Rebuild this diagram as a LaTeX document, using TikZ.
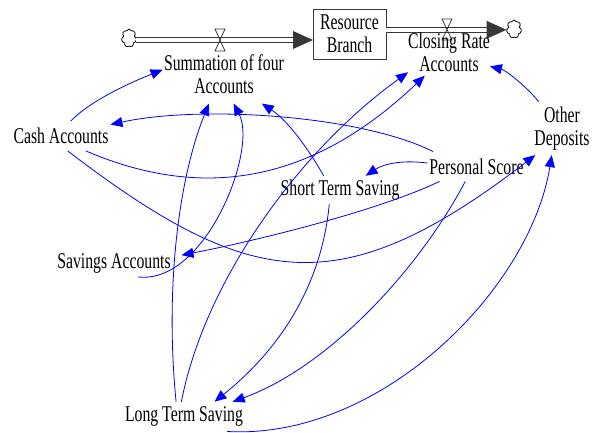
\documentclass[tikz,border=0pt]{standalone}
\usepackage{fontspec}
\setmainfont{Liberation Serif}[FakeStretch=0.7]
\usetikzlibrary{arrows.meta,shapes.symbols,calc}
\definecolor{linkblue}{RGB}{0,0,255}
\definecolor{pipegray}{RGB}{55,55,55}
\begin{document}
\begin{tikzpicture}[x=1bp,y=-1bp,
  lbl/.style={font=\fontsize{22.5bp}{23bp}\selectfont, align=center, inner xsep=2bp, inner ysep=2bp, outer sep=0pt, text=black},
  link/.style={draw=linkblue, line width=0.8bp, -{Triangle[length=12bp,width=10bp]}},
  pipe/.style={draw=pipegray, line width=1bp, double=white, double distance=3.8bp},
  cloudsty/.style={cloud, cloud puffs=7, cloud puff arc=150, aspect=0.8, draw=black, line width=0.8bp, minimum width=15bp, minimum height=18bp, inner sep=0pt},
  valve/.style={draw=pipegray, line width=0.8bp}
]
\useasboundingbox (0,0) rectangle (597,432);

% stock and clouds
\node[lbl, minimum width=73bp, minimum height=50bp, draw=pipegray, line width=0.9bp] (stock) at (349.5,34) {Resource\\Branch};
\node[cloudsty] (cl) at (129,38) {};
\node[cloudsty] (cr) at (514,29) {};

% inflow pipe
\coordinate (lp) at ($(cl.east -| stock.west)+(0,2)$);
\coordinate (ls) at ($(cl.east)+(0,2)$);
\draw[pipe] (ls) -- ($(lp)+(-19,0)$);
\fill[pipegray] (lp) -- ++(-20,-9) -- ++(0,18) -- cycle;
\draw[valve] (215,29) -- (225,29) -- (215,51) -- (225,51) -- cycle;

% outflow pipe
\coordinate (rs) at ($(stock.east |- cr.west)+(0,0.8)$);
\coordinate (rt) at ($(cr.west)+(0,0.8)$);
\draw[pipe] (rs) -- ($(rt)+(-19,0)$);
\fill[pipegray] (rt) -- ++(-20,-9) -- ++(0,18) -- cycle;
\draw[valve] (442,19) -- (452,19) -- (442,40) -- (452,40) -- cycle;

% variables
\node[lbl, inner xsep=1.5bp, inner ysep=10bp] (sum) at (224,74) {Summation of four\\Accounts};
\node[lbl, inner xsep=0bp, inner ysep=4bp] (close) at (449,52.3) {Closing Rate\\Accounts};
\node[lbl, inner ysep=7bp] (cash) at (61,136) {Cash Accounts};
\node[lbl, inner ysep=5bp] (od) at (562,128.4) {Other\\Deposits};
\node[lbl, inner ysep=7bp] (ps) at (476.5,166.5) {Personal Score};
\node[lbl, inner ysep=4bp] (st) at (340,190) {Short Term Saving};
\node[lbl, inner ysep=4bp] (sa) at (114,263) {Savings Accounts};
\node[lbl, inner ysep=5bp] (lt) at (184,416.6) {Long Term Saving};

% links
\draw[link] (cash.57) .. controls (91,100) and (132,82) .. (sum.176);
\draw[link] (ps.161) .. controls (360,115) and (200,105) .. (cash.13);
\draw[link] (cash.-31) .. controls (200,200) and (310,185) .. (close.-136);
\draw[link] (lt.100) .. controls (205,280) and (300,150) .. (close.-154);
\draw[link] (lt.118) .. controls (165,290) and (178,180) .. (sum.-117);
\draw[link] (sa.-30) .. controls (205,285) and (258,150) .. (sum.-72);
\draw[link] (st.139) .. controls (308,148) and (287,120) .. (sum.-38);
\draw[link] (ps.176) .. controls (405,160) and (385,163) .. (st.29);
\draw[link, shorten >=9bp] (ps.-158) .. controls (380,210) and (260,240) .. (sa.6);
\draw[link] (cash.-66) .. controls (250,290) and (340,305) .. (od.-135);
\draw[link] (ps.-127) .. controls (417,273) and (326,368) .. (lt.17);
\draw[link] (st.-127) .. controls (322,280) and (285,345) .. (lt.26);
\draw[link] (lt.-19) .. controls (380,440) and (530,290) .. (od.-111);
\draw[link] (od.131) .. controls (525,85) and (505,70) .. (close.-19);
\end{tikzpicture}
\end{document}
